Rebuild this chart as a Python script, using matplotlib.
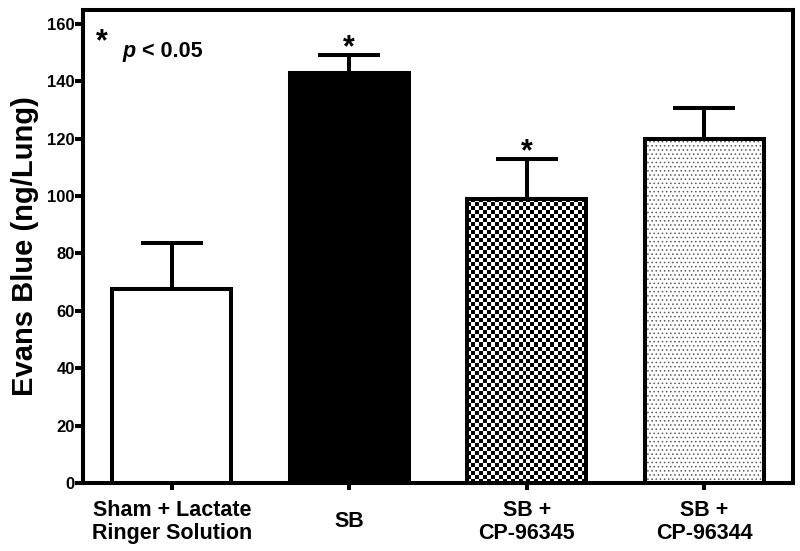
import numpy as np
import matplotlib
matplotlib.use('Agg')
from matplotlib import pyplot as plt

plt.rcParams['font.family'] = ['Liberation Sans', 'DejaVu Sans']
plt.rcParams['font.weight'] = 'bold'
plt.rcParams['hatch.linewidth'] = 0.6

# datos
grupos = ['Sham + Lactate\nRinger Solution', 'SB', 'SB +\nCP-96345', 'SB +\nCP-96344']
medias = [67.5, 143.0, 99.0, 120.0]
error = [16.0, 6.0, 14.0, 10.8]
signif = [False, True, True, False]
y_ticks = [0, 20, 40, 60, 80, 100, 120, 140, 160]

fig = plt.figure(figsize=(8, 5.51), dpi=100)
ax = fig.add_axes([0.1038, 0.1234, 0.8875, 0.8585])
ax.set_xlim(-0.5, 3.5)
ax.set_ylim(0, 164.8)

x = np.arange(len(grupos))
ancho = 0.67
lw = 2.9

# barras: blanca, negra, cuadriculada, punteada
caras = ['white', 'black', 'none', 'none']
eb = ax.errorbar(x, medias, yerr=[np.zeros(len(x)), error], fmt='none', ecolor='black',
                 elinewidth=lw, capsize=22.5, capthick=lw, zorder=2)
for c in eb[1]:
    c.set_solid_capstyle('round')

# fondo punteado de la ultima barra
ax.bar(x[3], medias[3], width=ancho, color='white', edgecolor='0.35',
       hatch='....', linewidth=0, zorder=2.6)

barras = ax.bar(x, medias, width=ancho, color=caras, edgecolor='black',
                linewidth=lw, zorder=3)

# tablero de ajedrez para la tercera barra (celdas de ~4 px)
b = barras[2]
x0, w, h = b.get_x(), b.get_width(), b.get_height()
p0 = ax.transData.transform((x0, 0))
p1 = ax.transData.transform((x0 + w, h))
ncol = int(round((p1[0] - p0[0]) / 4.0))
nfil = int(round((p1[1] - p0[1]) / 4.0))
tablero = np.indices((nfil, ncol)).sum(axis=0) % 2
im = ax.imshow(tablero, cmap='gray_r', extent=(x0, x0 + w, 0, h),
               interpolation='nearest', aspect='auto', zorder=2.5)
im.set_clip_path(b)
ax.set_xlim(-0.5, 3.5)
ax.set_ylim(0, 164.8)

# asteriscos de significancia
for xi, m, e, s in zip(x, medias, error, signif):
    if s:
        ax.annotate('*', xy=(xi, m + e), xytext=(0, -1), textcoords='offset points',
                    ha='center', va='baseline', fontsize=22, fontweight='bold')

# nota p < 0.05
ax.text(0.027, 0.915, '*', transform=ax.transAxes, ha='center', va='baseline',
        fontsize=22, fontweight='bold')
tp = ax.text(0.056, 0.901, 'p', transform=ax.transAxes, ha='left', va='baseline',
             fontsize=15.5, fontweight='bold', style='italic')
ax.annotate(' < 0.05', xy=(1, 0), xycoords=tp, ha='left', va='bottom',
            fontsize=15.5, fontweight='bold')

for lado in ['left', 'right', 'top', 'bottom']:
    ax.spines[lado].set_linewidth(lw)

ax.set_yticks(y_ticks)
ax.set_yticklabels([str(v) for v in y_ticks], fontsize=12, fontweight='bold')
ax.set_xticks(x)
ax.set_xticklabels(grupos, fontsize=15.5, fontweight='bold', linespacing=1.15)
for t in ax.get_xticklabels():
    t.set_verticalalignment('center')
ax.tick_params(axis='y', direction='out', length=5.5, width=lw, pad=0.5)
ax.tick_params(axis='x', direction='out', length=5, width=lw, pad=23)

ax.set_ylabel('Evans Blue (ng/Lung)', fontsize=21, fontweight='bold', labelpad=6)

plt.savefig('out.png', dpi=100)
